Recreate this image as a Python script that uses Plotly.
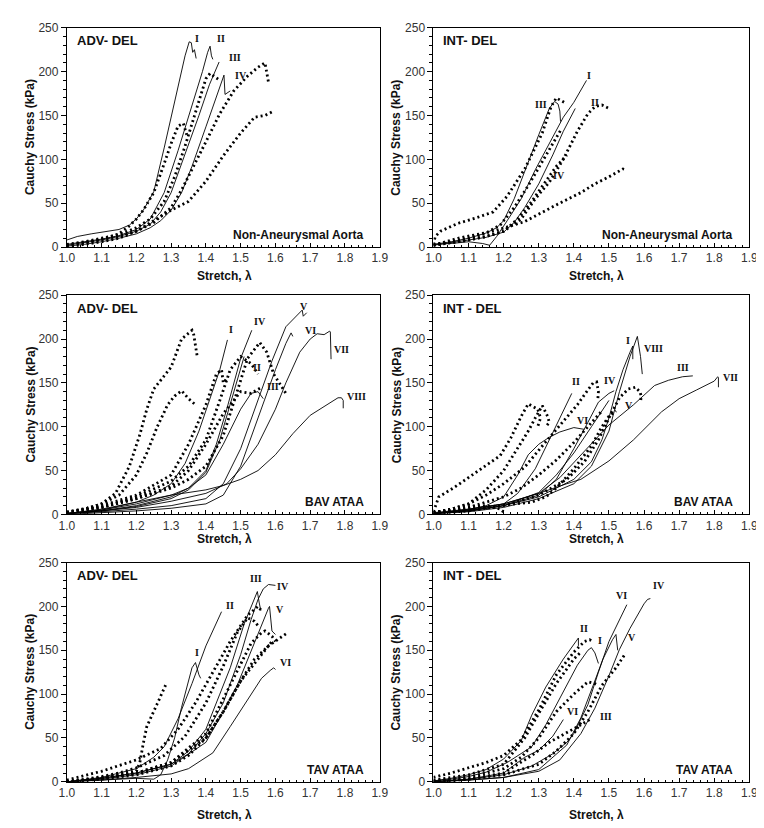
import plotly.graph_objects as go

# ---------------- DATA ----------------
# Panel 1: ADV-DEL, Non-Aneurysmal Aorta
adv_non_solid_x = [
    [1.0,1.03,1.07,1.1,1.15,1.18,1.2,1.22,1.25,1.28,1.31,1.34,1.352,1.358,1.362,1.367,1.372],
    [1.0,1.05,1.1,1.15,1.2,1.24,1.28,1.32,1.36,1.39,1.405,1.412,1.416,1.42],
    [1.0,1.05,1.1,1.15,1.2,1.24,1.27,1.3,1.34,1.38,1.41,1.438],
    [1.0,1.05,1.1,1.15,1.2,1.24,1.27,1.3,1.33,1.36,1.4,1.43,1.452,1.455,1.47],
]
adv_non_solid_y = [
    [8,12,15,17,20,25,32,42,63,113,165,218,234,233,222,225,215],
    [3,6,9,13,20,32,62,110,160,200,222,229,218,214],
    [2,5,8,12,18,26,40,62,105,150,185,211],
    [1,3,6,10,15,22,30,42,62,92,137,170,196,174,178],
]
adv_non_dot_x = [
    [1.0,1.05,1.1,1.15,1.18,1.2,1.22,1.25,1.28,1.3,1.32,1.335,1.345],
    [1.0,1.05,1.1,1.15,1.2,1.24,1.28,1.31,1.34,1.37,1.4,1.412,1.43,1.44],
    [1.0,1.05,1.1,1.15,1.2,1.25,1.3,1.33,1.36,1.4,1.44,1.48,1.52,1.55,1.57,1.575,1.58],
    [1.0,1.05,1.1,1.15,1.2,1.25,1.3,1.35,1.4,1.45,1.5,1.54,1.57,1.595],
]
adv_non_dot_y = [
    [2,5,9,15,24,32,42,62,95,118,138,141,128],
    [3,6,10,14,22,32,52,80,115,155,192,198,193,190],
    [2,5,8,12,18,28,45,65,88,120,152,178,195,205,210,200,188],
    [0,3,6,10,18,30,42,52,75,104,130,148,150,155],
]
adv_non_labels = ["I", "II", "III", "IV"]

# Panel 2: INT-DEL, Non-Aneurysmal Aorta
int_non_solid_x = [
    [1.0,1.05,1.1,1.14,1.16,1.18,1.21,1.25,1.29,1.33,1.37,1.4,1.436],
    [1.0,1.05,1.1,1.15,1.2,1.23,1.26,1.3,1.34,1.37,1.404],
    [1.0,1.05,1.1,1.15,1.18,1.2,1.23,1.26,1.3,1.33,1.345,1.355,1.36,1.362],
]
int_non_solid_y = [
    [3,4,6,4,2,12,30,55,88,118,148,165,190],
    [2,5,8,11,17,28,45,72,105,132,158],
    [3,6,10,16,22,30,55,87,128,158,166,163,155,143],
]
int_non_dot_x = [
    [1.0,1.005,1.02,1.07,1.12,1.17,1.21,1.26,1.31,1.335,1.35,1.36,1.372],
    [1.0,1.05,1.1,1.15,1.2,1.25,1.29,1.33,1.37,1.41,1.44,1.46,1.48,1.5],
    [1.0,1.07,1.17,1.26,1.35,1.42,1.46,1.5,1.54,1.55],
    [1.0,1.05,1.1,1.15,1.19,1.23,1.27,1.31,1.34,1.365],
    [1.0,1.05,1.1,1.15,1.2,1.24,1.28,1.32,1.35,1.38],
]
int_non_dot_y = [
    [3,12,18,27,33,40,58,89,130,160,170,168,165],
    [2,5,8,12,18,32,55,74,100,132,152,160,162,158],
    [2,10,18,29,48,62,72,80,89,88],
    [3,6,10,16,25,45,70,98,118,135],
    [2,5,8,12,18,32,52,75,92,105],
]
int_non_labels = ["I", "II", "III", "IV"]

# Panel 3: ADV-DEL, BAV ATAA
adv_bav_solid_x = [
    [1.0,1.1,1.2,1.25,1.3,1.34,1.38,1.42,1.44,1.462],
    [1.0,1.1,1.2,1.3,1.35,1.4,1.44,1.48,1.51],
    [1.0,1.1,1.2,1.3,1.35,1.4,1.45,1.5,1.53,1.55,1.565],
    [1.0,1.1,1.2,1.3,1.35,1.4,1.43,1.46,1.5,1.532],
    [1.0,1.1,1.2,1.3,1.4,1.45,1.5,1.55,1.59,1.63,1.65,1.67,1.677,1.68,1.69],
    [1.0,1.1,1.2,1.3,1.4,1.45,1.5,1.55,1.6,1.63,1.645,1.65],
    [1.0,1.1,1.2,1.3,1.4,1.46,1.5,1.55,1.6,1.63,1.67,1.7,1.72,1.74,1.756,1.758,1.76],
    [1.0,1.1,1.2,1.3,1.4,1.45,1.5,1.55,1.6,1.65,1.7,1.75,1.78,1.79,1.795,1.795],
]
adv_bav_solid_y = [
    [1,5,14,22,35,58,95,140,165,199],
    [1,4,9,18,28,48,85,140,180],
    [1,5,12,22,30,45,80,120,138,140,132],
    [1,4,10,20,30,50,80,120,178,210],
    [1,3,6,10,18,35,75,130,175,214,222,230,233,226,230],
    [0,2,4,7,12,22,55,110,165,195,207,203],
    [1,4,8,15,24,35,52,80,120,150,185,200,206,205,209,208,177],
    [1,6,14,22,28,33,40,50,68,92,113,125,133,133,130,121],
]
adv_bav_dot_x = [
    [1.0,1.05,1.1,1.14,1.18,1.21,1.23,1.25,1.28,1.3,1.33,1.36,1.365,1.37,1.375],
    [1.0,1.05,1.1,1.15,1.2,1.23,1.26,1.29,1.31,1.33,1.35,1.37],
    [1.0,1.1,1.2,1.3,1.35,1.4,1.45,1.49,1.52,1.555,1.575,1.595,1.61,1.63],
    [1.0,1.1,1.2,1.3,1.35,1.4,1.44,1.47,1.5,1.53,1.55],
    [1.0,1.1,1.2,1.3,1.35,1.4,1.43,1.445,1.45,1.46],
    [1.0,1.1,1.2,1.3,1.35,1.4,1.45,1.5,1.53,1.56],
]
adv_bav_dot_y = [
    [2,6,12,24,55,91,120,143,158,168,200,210,205,190,180],
    [2,6,12,22,45,70,100,125,135,141,132,125],
    [2,8,18,30,40,55,90,140,178,196,185,160,150,138],
    [2,8,20,38,55,85,130,165,180,172,160],
    [3,10,22,45,80,125,160,165,150,155],
    [2,8,18,32,50,80,115,140,138,145],
]
adv_bav_labels = ["I", "II", "III", "IV", "V", "VI", "VII", "VIII"]

# Panel 4: INT-DEL, BAV ATAA
int_bav_solid_x = [
    [1.0,1.1,1.2,1.3,1.4,1.45,1.48,1.5,1.52,1.54,1.56,1.568,1.568],
    [1.0,1.1,1.15,1.2,1.24,1.29,1.33,1.36,1.394],
    [1.0,1.1,1.2,1.3,1.36,1.43,1.5,1.57,1.63,1.67,1.71,1.739],
    [1.0,1.1,1.2,1.3,1.35,1.4,1.44,1.47,1.5,1.515],
    [1.0,1.1,1.15,1.2,1.24,1.27,1.3,1.33,1.36,1.4,1.43],
    [1.0,1.1,1.2,1.3,1.38,1.42,1.5,1.57,1.65,1.7,1.75,1.8,1.81,1.812,1.812],
    [1.0,1.1,1.2,1.3,1.4,1.45,1.5,1.53,1.56,1.575,1.581,1.59,1.595],
    [1.0,1.1,1.2,1.3,1.35,1.4,1.45,1.5],
]
int_bav_solid_y = [
    [1,4,10,20,40,60,85,110,140,165,185,192,177],
    [1,5,8,12,24,52,85,110,138],
    [2,6,12,24,42,72,102,125,147,153,157,158],
    [1,4,10,22,40,75,105,128,138,141],
    [1,5,10,20,45,68,80,88,94,99,97],
    [1,6,12,24,35,40,61,85,117,132,142,152,157,156,145],
    [1,3,8,18,35,55,95,140,180,198,203,180,160],
    [1,4,10,25,45,70,100,130],
]
int_bav_dot_x = [
    [1.0,1.005,1.015,1.06,1.1,1.15,1.19,1.22,1.25,1.27,1.285,1.297,1.305,1.3,1.297],
    [1.0,1.05,1.1,1.15,1.2,1.24,1.27,1.29,1.31,1.325,1.33,1.32],
    [1.0,1.05,1.1,1.15,1.2,1.26,1.31,1.36,1.41,1.44,1.455,1.465,1.47,1.468],
    [1.0,1.1,1.2,1.3,1.38,1.43,1.47,1.5,1.53,1.555,1.575,1.588,1.592,1.59],
    [1.0,1.1,1.2,1.25,1.3,1.35,1.4,1.44,1.48],
    [1.0,1.1,1.2,1.28,1.32,1.35,1.4,1.45,1.48,1.5,1.52],
    [1.0,1.05,1.1,1.15,1.19,1.205],
]
int_bav_dot_y = [
    [3,9,20,31,42,55,67,87,112,126,123,120,110,104,100],
    [2,6,12,28,50,75,95,110,124,112,105,100],
    [2,6,12,22,35,54,78,102,125,142,150,151,140,130],
    [1,4,10,22,40,60,85,110,133,143,145,140,135,128],
    [2,8,20,30,45,62,82,100,118],
    [2,6,10,14,20,30,52,78,100,112,118],
    [2,6,9,10,6,1],
]
int_bav_labels = ["I", "VIII", "II", "IV", "III", "VII", "V", "VI"]

# Panel 5: ADV-DEL, TAV ATAA
adv_tav_solid_x = [
    [1.0,1.1,1.2,1.25,1.27,1.29,1.31,1.33,1.35,1.36,1.37,1.375,1.38,1.385],
    [1.0,1.1,1.2,1.25,1.28,1.32,1.36,1.4,1.445],
    [1.0,1.1,1.2,1.3,1.35,1.4,1.44,1.47,1.51,1.535,1.548,1.553,1.558],
    [1.0,1.1,1.2,1.3,1.35,1.4,1.45,1.5,1.53,1.55,1.565,1.58,1.6],
    [1.0,1.1,1.2,1.3,1.4,1.45,1.49,1.53,1.56,1.58,1.583,1.59,1.6],
    [1.0,1.1,1.2,1.25,1.3,1.35,1.42,1.47,1.53,1.56,1.585,1.595,1.6],
]
adv_tav_solid_y = [
    [0,2,4,3,8,25,50,85,115,130,136,128,122,118],
    [0,5,15,28,40,72,112,155,194],
    [0,4,10,20,35,60,100,130,180,205,217,205,195],
    [0,4,10,20,32,55,90,145,185,208,220,225,224],
    [0,3,8,18,45,80,110,150,180,198,200,172,168],
    [0,2,5,7,9,15,33,63,100,118,127,130,128],
]
adv_tav_dot_x = [
    [1.0,1.05,1.1,1.15,1.2,1.21,1.22,1.23,1.26,1.286],
    [1.0,1.05,1.1,1.15,1.2,1.28,1.34,1.4,1.45,1.49,1.52,1.54,1.55],
    [1.0,1.1,1.2,1.3,1.4,1.45,1.5,1.54,1.58,1.61,1.635],
    [1.0,1.1,1.2,1.3,1.4,1.45,1.5,1.53,1.56,1.57,1.59,1.6],
    [1.0,1.1,1.2,1.3,1.35,1.4,1.45,1.5,1.55,1.59],
    [1.0,1.1,1.2,1.27,1.32,1.37,1.42,1.47,1.52,1.55,1.56],
]
adv_tav_dot_y = [
    [0,2,5,8,12,22,44,63,89,112],
    [0,3,6,10,16,30,52,90,132,170,187,183,178],
    [0,4,10,22,50,80,115,140,155,163,170],
    [0,4,10,22,55,95,135,158,170,172,166,160],
    [0,3,8,18,30,50,80,115,140,160],
    [2,12,25,38,60,90,125,160,190,200,195],
]
adv_tav_labels = ["I", "II", "III", "IV", "V", "VI"]

# Panel 6: INT-DEL, TAV ATAA
int_tav_solid_x = [
    [1.0,1.05,1.1,1.15,1.2,1.25,1.28,1.32,1.37,1.41,1.413,1.413],
    [1.0,1.05,1.1,1.15,1.21,1.28,1.32,1.37,1.41,1.44,1.45,1.46,1.47],
    [1.0,1.1,1.2,1.28,1.34,1.38,1.4,1.44,1.47,1.5,1.551],
    [1.0,1.1,1.2,1.3,1.36,1.42,1.46,1.5,1.53,1.56,1.6,1.61,1.618],
    [1.0,1.1,1.2,1.3,1.38,1.42,1.455,1.483,1.51,1.52,1.525],
    [1.0,1.1,1.2,1.26,1.3,1.34,1.37],
]
int_tav_solid_y = [
    [1,4,8,14,26,47,76,108,140,163,164,155],
    [1,3,6,11,22,40,65,103,133,150,153,147,135],
    [0,3,8,18,32,45,55,88,125,160,202],
    [0,2,5,12,25,55,84,121,151,175,203,208,209],
    [0,2,5,14,42,73,110,140,162,168,150],
    [0,3,10,28,36,52,71],
]
int_tav_dot_x = [
    [1.0,1.05,1.1,1.15,1.2,1.25,1.3,1.35,1.4,1.43,1.445,1.455],
    [1.0,1.1,1.2,1.26,1.3,1.35,1.4,1.42],
    [1.0,1.1,1.2,1.3,1.35,1.4,1.44,1.48,1.52,1.548],
    [1.0,1.1,1.2,1.25,1.3,1.35,1.4,1.44,1.46,1.47],
    [1.0,1.1,1.2,1.28,1.33,1.39,1.42,1.445],
]
int_tav_dot_y = [
    [5,10,16,22,30,48,82,122,148,160,162,160],
    [2,8,20,50,78,112,140,148],
    [0,3,8,20,35,55,80,110,130,147],
    [1,5,15,28,50,80,100,114,112,110],
    [0,3,10,30,45,58,65,71],
]
int_tav_labels = ["II", "I", "VI", "IV", "V", "VI", "III"]

panel_titles = ["ADV- DEL", "INT- DEL", "ADV- DEL", "INT - DEL", "ADV- DEL", "INT - DEL"]
panel_groups = ["Non-Aneurysmal Aorta", "Non-Aneurysmal Aorta", "BAV ATAA", "BAV ATAA", "TAV ATAA", "TAV ATAA"]
x_ticks = [1.0, 1.1, 1.2, 1.3, 1.4, 1.5, 1.6, 1.7, 1.8, 1.9]
y_ticks = [0, 50, 100, 150, 200, 250]

# ---------------- LABEL POSITIONS (data coords) ----------------
label_pos = [
    [(1.373, 238), (1.443, 238), (1.485, 216), (1.502, 196)],
    [(1.443, 196), (1.46, 165), (1.307, 162), (1.358, 81)],
    [(1.472, 211), (1.547, 167), (1.593, 146), (1.556, 220), (1.682, 237), (1.701, 210), (1.79, 188), (1.832, 134)],
    [(1.553, 198), (1.626, 189), (1.406, 151), (1.502, 153), (1.712, 168), (1.846, 156), (1.558, 124), (1.424, 107)],
    [(1.375, 148), (1.469, 201), (1.544, 232), (1.623, 223), (1.614, 197), (1.628, 136)],
    [(1.428, 175), (1.474, 161), (1.535, 212), (1.644, 224), (1.567, 164), (1.395, 80), (1.493, 75)],
]

panels = [
    (adv_non_solid_x, adv_non_solid_y, adv_non_dot_x, adv_non_dot_y, adv_non_labels),
    (int_non_solid_x, int_non_solid_y, int_non_dot_x, int_non_dot_y, int_non_labels),
    (adv_bav_solid_x, adv_bav_solid_y, adv_bav_dot_x, adv_bav_dot_y, adv_bav_labels),
    (int_bav_solid_x, int_bav_solid_y, int_bav_dot_x, int_bav_dot_y, int_bav_labels),
    (adv_tav_solid_x, adv_tav_solid_y, adv_tav_dot_x, adv_tav_dot_y, adv_tav_labels),
    (int_tav_solid_x, int_tav_solid_y, int_tav_dot_x, int_tav_dot_y, int_tav_labels),
]

# ---------------- LAYOUT GEOMETRY ----------------
W, H = 764, 828
x_dom = [[52 / W, 372 / W], [427 / W, 750 / W]]
y_dom = [[1 - 236 / H, 1 - 13 / H], [1 - 508 / H, 1 - 285 / H], [1 - 780 / H, 1 - 557 / H]]
ylab_x = [15 / W, 389 / W]
xlab_x = [213 / W, 594 / W]
xlab_y = [1 - 265 / H, 1 - 533 / H, 1 - 814 / H]

SANS = "Liberation Sans, Arial, sans-serif"
SERIF = "Liberation Serif, Times New Roman, serif"

fig = go.Figure()
layout = dict(
    width=W, height=H,
    margin=dict(l=0, r=0, t=0, b=0),
    paper_bgcolor="white", plot_bgcolor="white",
    showlegend=False,
    font=dict(family=SANS, color="#222"),
)
annotations = []

for i, (sx, sy, dx, dy, labels) in enumerate(panels):
    row, col = divmod(i, 2)
    n = i + 1
    xa = "x" if n == 1 else f"x{n}"
    ya = "y" if n == 1 else f"y{n}"
    for xs, ys in zip(dx, dy):
        fig.add_trace(go.Scatter(x=xs, y=ys, mode="lines", xaxis=xa, yaxis=ya,
                                 line=dict(color="black", width=2.8, dash="2px,3px"),
                                 hoverinfo="skip"))
    for xs, ys in zip(sx, sy):
        fig.add_trace(go.Scatter(x=xs, y=ys, mode="lines", xaxis=xa, yaxis=ya,
                                 line=dict(color="black", width=0.9),
                                 hoverinfo="skip"))
    xkey = "xaxis" if n == 1 else f"xaxis{n}"
    ykey = "yaxis" if n == 1 else f"yaxis{n}"
    layout[xkey] = dict(
        domain=x_dom[col], anchor=ya, range=[1.0, 1.9],
        tickmode="array", tickvals=x_ticks, ticktext=[f"{v:.1f}" for v in x_ticks],
        ticks="inside", ticklen=4, tickcolor="black",
        minor=dict(dtick=0.02, tick0=1.0, ticks="inside", ticklen=2, tickcolor="black", showgrid=False),
        showline=True, mirror=True, linecolor="black", linewidth=1,
        showgrid=False, zeroline=False,
        tickfont=dict(family=SANS, size=12, color="#333"),
    )
    layout[ykey] = dict(
        domain=y_dom[row], anchor=xa, range=[0, 250],
        tickmode="array", tickvals=y_ticks,
        ticks="outside", ticklen=5, tickcolor="black",
        minor=dict(dtick=10, tick0=0, ticks="outside", ticklen=3, tickcolor="black", showgrid=False),
        showline=True, mirror=True, linecolor="black", linewidth=1,
        showgrid=False, zeroline=False,
        tickfont=dict(family=SANS, size=12, color="#333"),
    )
    annotations.append(dict(text=f"<b>{panel_titles[i]}</b>", xref=f"{xa} domain", yref=f"{ya} domain",
                            x=0.025, y=0.94, xanchor="left", yanchor="middle", showarrow=False,
                            font=dict(family=SANS, size=13, color="#111")))
    annotations.append(dict(text=f"<b>{panel_groups[i]}</b>", xref=f"{xa} domain", yref=f"{ya} domain",
                            x=0.955, y=0.055, xanchor="right", yanchor="middle", showarrow=False,
                            font=dict(family=SANS, size=12, color="#111")))
    for txt, (lx, ly) in zip(labels, label_pos[i]):
        annotations.append(dict(text=f"<b>{txt}</b>", xref=xa, yref=ya, x=lx, y=ly,
                                xanchor="center", yanchor="middle", showarrow=False,
                                font=dict(family=SERIF, size=10, color="#111")))
    annotations.append(dict(text="<b>Cauchy Stress (kPa)</b>", xref="paper", yref="paper",
                            x=ylab_x[col], y=(y_dom[row][0] + y_dom[row][1]) / 2,
                            xanchor="center", yanchor="middle", textangle=-90, showarrow=False,
                            font=dict(family=SANS, size=12, color="#111")))
    annotations.append(dict(text="<b>Stretch, λ</b>", xref="paper", yref="paper",
                            x=xlab_x[col], y=xlab_y[row], xanchor="center", yanchor="middle",
                            showarrow=False, font=dict(family=SANS, size=12, color="#111")))

layout["annotations"] = annotations
fig.update_layout(**layout)
fig.write_html("out.html")
